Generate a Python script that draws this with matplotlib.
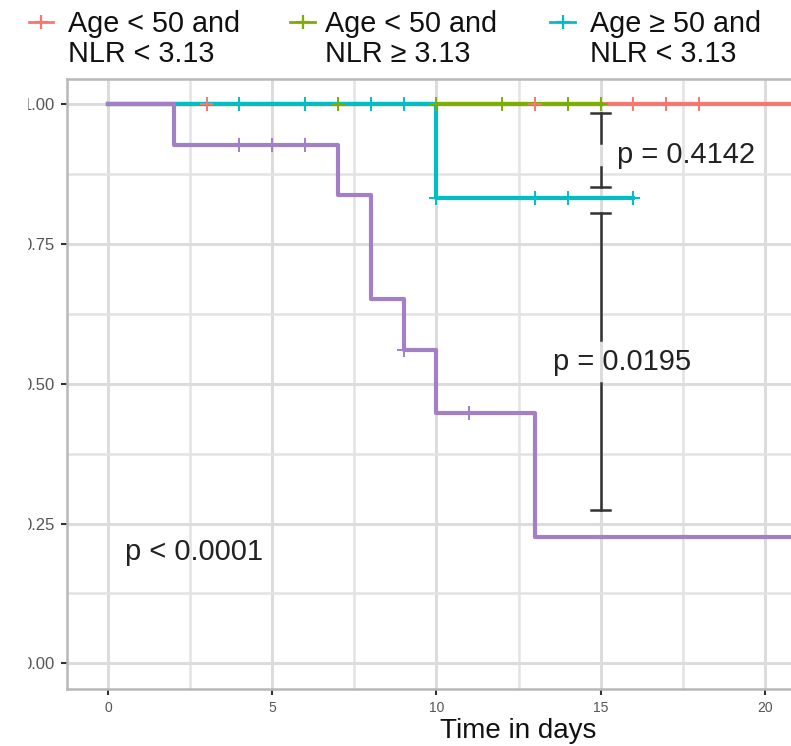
import matplotlib.pyplot as plt
import matplotlib.lines as mlines
import matplotlib.patches as mpatches
import numpy as np

plt.rcParams['font.family'] = ['Liberation Sans', 'DejaVu Sans']

W, H = 791, 746

groups = ['Age < 50 and\nNLR < 3.13', 'Age < 50 and\nNLR \u2265 3.13',
          'Age \u2265 50 and\nNLR < 3.13', 'Age \u2265 50 and\nNLR \u2265 3.13']
colors = ['#F8766D', '#7CAE00', '#00BFC4', '#A27FC6']

# KM curves: step times and survival from that time on
red_t = [0, 25]
red_s = [1.0, 1.0]
green_t = [0, 15]
green_s = [1.0, 1.0]
teal_t = [0, 10, 16]
teal_s = [1.0, 0.833, 0.833]
purple_t = [0, 2, 7, 8, 9, 10, 13, 25]
purple_s = [1.0, 0.927, 0.837, 0.651, 0.560, 0.447, 0.225, 0.225]

# censored times
red_cens = [3, 13, 16, 17, 18]
green_cens = [7, 10, 12, 14, 15]
teal_cens = [4, 6, 8, 9, 10, 13, 14, 16]
purple_cens = [4, 5, 6, 9, 11]

curves = [(red_t, red_s, red_cens), (green_t, green_s, green_cens),
          (teal_t, teal_s, teal_cens), (purple_t, purple_s, purple_cens)]

# pairwise comparison brackets at day 15
bracket_x = 15
bracket1 = [(0.984, 0.930), (0.887, 0.851)]
bracket2 = [(0.805, 0.578), (0.501, 0.274)]
p_texts = ['p = 0.4142', 'p = 0.0195', 'p < 0.0001']
p_pos = [(15.5, 0.909), (13.55, 0.538), (0.52, 0.199)]

xticks = [0, 5, 10, 15, 20]
yticks = [0.0, 0.25, 0.5, 0.75, 1.0]


def surv_at(t, s, c):
    idx = np.searchsorted(t, c, side='right') - 1
    return np.array(s)[idx]


fig = plt.figure(figsize=(W / 100, H / 100), dpi=100)
# axes reach past the right edge (the picture is cropped there)
ax = fig.add_axes([67 / W, 57 / H, 903 / W, 610 / H])

ax.set_xlim(-1.25, 26.25)
ax.set_ylim(-0.046, 1.045)
ax.set_xticks(xticks)
ax.set_xticks([2.5, 7.5, 12.5, 17.5, 22.5], minor=True)
ax.set_yticks(yticks)
ax.set_yticklabels(['%.2f' % v for v in yticks])
ax.set_yticks([0.125, 0.375, 0.625, 0.875], minor=True)
ax.grid(True, which='major', color='#dcdcdc', lw=2.2, zorder=0)
ax.grid(True, which='minor', color='#e3e3e3', lw=1.8, zorder=0)
ax.tick_params(which='minor', length=0)
ax.tick_params(which='major', length=4, width=1.5, color='#333333',
               labelsize=10, labelcolor='#555555', pad=5)
ax.tick_params(axis='y', labelsize=12)
for sp in ax.spines.values():
    sp.set_color('#b8b8b8')
    sp.set_linewidth(1.8)
ax.set_axisbelow(True)

for (t, s, c), col in zip(curves, colors):
    ax.step(t, s, where='post', color=col, lw=3, zorder=3)
for (t, s, c), col in zip(curves, colors):
    ax.plot(c, surv_at(t, s, c), ls='none', marker='+', ms=10, mew=1.4,
            color=col, zorder=4)

for segs in (bracket1, bracket2):
    for y0, y1 in segs:
        ax.plot([bracket_x, bracket_x], [y0, y1], color='#333333', lw=1.8, zorder=5)
    for yc in (segs[0][0], segs[-1][1]):
        ax.plot([bracket_x - 0.3, bracket_x + 0.3], [yc, yc], color='#333333',
                lw=1.8, zorder=5)

for txt, (px, py) in zip(p_texts, p_pos):
    ax.text(px, py, txt, fontsize=21, color='#222222', ha='left', va='center',
            zorder=6)

ax.set_xlabel('Time in days', fontsize=20, color='#111111', labelpad=2)

# legend along the top (the fourth entry lies beyond the cropped edge)
key_x = [28, 290, 550]
text_x = [68, 325, 590]
for lab, col, kx, tx in zip(groups, colors, key_x, text_x):
    fig.add_artist(mlines.Line2D([kx / W, (kx + 25) / W], [1 - 22 / H, 1 - 22 / H],
                                 color=col, lw=2, transform=fig.transFigure))
    fig.add_artist(mlines.Line2D([(kx + 12.5) / W], [1 - 22 / H], marker='+',
                                 ms=10, mew=1.6, color=col, transform=fig.transFigure))
    fig.text(tx / W, 1 - 39 / H, lab, fontsize=20.7, color='#111111', ha='left',
             va='center', linespacing=1.1)

# left edge of the screenshot is cut off
fig.add_artist(mpatches.Rectangle((0, 0), 27 / W, 1, transform=fig.transFigure,
                                  color='white', zorder=20))

fig.savefig('out.png', dpi=100)
